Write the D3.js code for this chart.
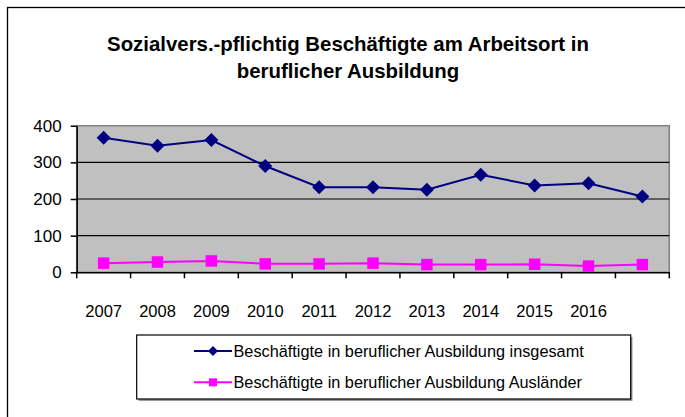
<!DOCTYPE html>
<html>
<head>
<meta charset="utf-8">
<script src="https://cdn.jsdelivr.net/npm/d3@7"></script>
<style>
  body { margin: 0; background: #fff; }
  svg { display: block; font-family: "Liberation Sans", Arial, sans-serif; }
</style>
</head>
<body>
<svg id="chart" width="685" height="417"></svg>
<script>
// categories: 11 points, the last one has no year label
const yearLabels = ["2007", "2008", "2009", "2010", "2011", "2012", "2013", "2014", "2015", "2016", ""];
const insgesamt = [367, 345, 361, 290, 232, 232, 225, 266, 237, 243, 207];
const auslaender = [25, 28, 31, 23, 23, 25, 21, 21, 22, 17, 21];
const yTicks = [0, 100, 200, 300, 400];
const titleLines = ["Sozialvers.-pflichtig Beschäftigte am Arbeitsort in", "beruflicher Ausbildung"];
const seriesNames = ["Beschäftigte in beruflicher Ausbildung insgesamt", "Beschäftigte in beruflicher Ausbildung Ausländer"];

const svg = d3.select('#chart');
const plot = {left: 76.7, right: 669.3, top: 125.7, bottom: 272.3};

const x = d3.scaleBand()
  .domain(d3.range(yearLabels.length))
  .range([plot.left, plot.right]);
const y = d3.scaleLinear()
  .domain([0, 400])
  .range([plot.bottom, plot.top]);

// outer frame (cut off at right / bottom like the original)
svg.append('rect')
  .attr('x', 7.5).attr('y', 7.5)
  .attr('width', 700).attr('height', 430)
  .attr('fill', 'none').attr('stroke', '#000').attr('stroke-width', 1.3);

// title
svg.append('g').selectAll('text')
  .data(titleLines)
  .enter().append('text')
  .attr('x', 348)
  .attr('y', (d, i) => 51 + i * 27)
  .attr('text-anchor', 'middle')
  .attr('font-size', 20.4)
  .attr('font-weight', 'bold')
  .text(d => d);

// plot area
svg.append('rect')
  .attr('x', plot.left).attr('y', plot.top)
  .attr('width', plot.right - plot.left).attr('height', plot.bottom - plot.top)
  .attr('fill', '#c0c0c0').attr('stroke', '#808080').attr('stroke-width', 1.5);

// gridlines
svg.append('g').selectAll('line')
  .data(yTicks.filter(t => t > 0 && t < 400))
  .enter().append('line')
  .attr('x1', plot.left).attr('x2', plot.right)
  .attr('y1', d => y(d)).attr('y2', d => y(d))
  .attr('stroke', '#000').attr('stroke-width', 1.2);

// y axis
const yAxis = svg.append('g')
  .attr('transform', 'translate(' + plot.left + ',0)')
  .call(d3.axisLeft(y).tickValues(yTicks).tickSize(6).tickPadding(9).tickSizeOuter(0));
yAxis.selectAll('text').attr('font-size', 17).attr('fill', '#000').attr('font-family', null);
yAxis.selectAll('line, path').attr('stroke', '#000').attr('stroke-width', 1.5);

// x axis: labels centred in the bands, ticks on band boundaries
const xAxis = svg.append('g')
  .attr('transform', 'translate(0,' + plot.bottom + ')')
  .call(d3.axisBottom(x).tickSize(0).tickPadding(33).tickSizeOuter(0).tickFormat(i => yearLabels[i]));
xAxis.selectAll('text').attr('font-size', 16.5).attr('fill', '#000').attr('font-family', null);
xAxis.select('path').attr('stroke', '#000').attr('stroke-width', 1.5);

const bounds = x.domain().map(i => x(i)).concat([plot.right]);
svg.append('g').selectAll('line')
  .data(bounds)
  .enter().append('line')
  .attr('x1', d => d).attr('x2', d => d)
  .attr('y1', plot.bottom).attr('y2', plot.bottom + 6)
  .attr('stroke', '#000').attr('stroke-width', 1.5);

// markers
const diamond = r => 'M0,' + (-r) + 'L' + r + ',0L0,' + r + 'L' + (-r) + ',0Z';
const square = s => 'M' + (-s / 2) + ',' + (-s / 2) + 'h' + s + 'v' + s + 'h' + (-s) + 'Z';

const cx = i => x(i) + x.bandwidth() / 2;
const line = d3.line().x((d, i) => cx(i)).y(d => y(d));

const series = [
  {values: insgesamt, color: '#000080', shape: diamond(7), legendShape: diamond(5)},
  {values: auslaender, color: '#ff00ff', shape: square(11.5), legendShape: square(8)}
];

series.forEach(s => {
  svg.append('path')
    .attr('d', line(s.values))
    .attr('fill', 'none')
    .attr('stroke', s.color)
    .attr('stroke-width', 2);
  svg.append('g').selectAll('path')
    .data(s.values)
    .enter().append('path')
    .attr('transform', (d, i) => 'translate(' + cx(i) + ',' + y(d) + ')')
    .attr('d', s.shape)
    .attr('fill', s.color);
});

// legend
const legend = svg.append('g');
legend.append('rect')
  .attr('x', 138.5).attr('y', 337)
  .attr('width', 494).attr('height', 64)
  .attr('fill', '#999');
legend.append('rect')
  .attr('x', 136.7).attr('y', 335)
  .attr('width', 494).attr('height', 64)
  .attr('fill', '#fff').attr('stroke', '#000').attr('stroke-width', 1.2);

const rows = legend.selectAll('g.row')
  .data(series)
  .enter().append('g')
  .attr('class', 'row')
  .attr('transform', (d, i) => 'translate(0,' + (351 + i * 31.3) + ')');
rows.append('line')
  .attr('x1', 194).attr('x2', 232)
  .attr('stroke', d => d.color).attr('stroke-width', 2);
rows.append('path')
  .attr('transform', 'translate(213,0)')
  .attr('d', d => d.legendShape)
  .attr('fill', d => d.color);
rows.append('text')
  .attr('x', 233.5)
  .attr('dy', '0.35em')
  .attr('font-size', 16.3)
  .text((d, i) => seriesNames[i]);
</script>
</body>
</html>
